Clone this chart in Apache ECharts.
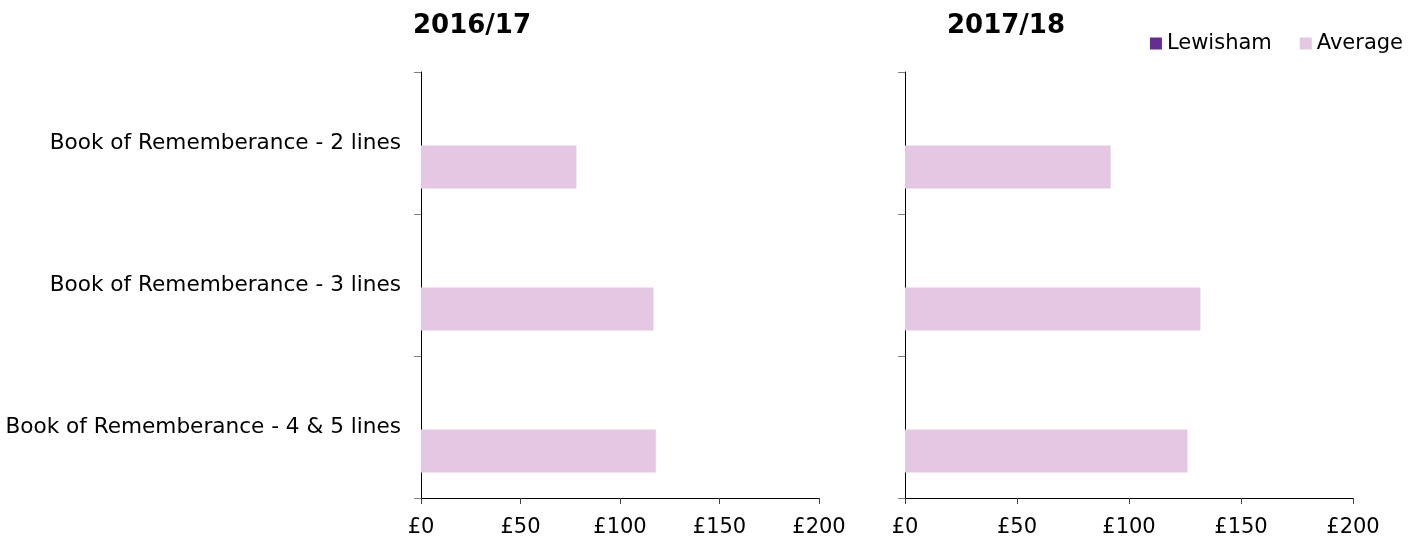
<!DOCTYPE html>
<html>
<head>
    <meta charset="utf-8">
    <title>Book of Rememberance</title>
    <script src="https://cdn.jsdelivr.net/npm/echarts@6/dist/echarts.min.js"></script>
    <style>
        html, body { margin: 0; padding: 0; background: #fff; }
        #chart { width: 1422px; height: 541px; }
    </style>
</head>
<body>
<div id="chart"></div>
<script>
    // categories, top to bottom
    var categories = ['Book of Rememberance - 2 lines', 'Book of Rememberance - 3 lines', 'Book of Rememberance - 4 & 5 lines'];
    var panelTitles = ['2016/17', '2017/18'];
    // Lewisham has no values shown
    var lewisham1617 = [null, null, null];
    var average1617 = [78.1, 116.8, 118.0];
    var lewisham1718 = [null, null, null];
    var average1718 = [91.8, 131.9, 126.1];
    var xTicks = [0, 50, 100, 150, 200];

    var font = 'DejaVu Sans, Verdana, sans-serif';
    var purple = '#662D91';
    var pink = '#E4C7E3';

    var myChart = echarts.init(document.getElementById('chart'));

    function xAxis(idx) {
        return {
            type: 'value', gridIndex: idx,
            min: xTicks[0], max: xTicks[xTicks.length - 1], interval: xTicks[1] - xTicks[0],
            axisLine: {show: true, lineStyle: {color: '#000', width: 1}},
            axisTick: {show: true, length: 6, lineStyle: {color: '#404040'}},
            splitLine: {show: false},
            axisLabel: {
                formatter: '£{value}', color: '#000', fontFamily: font, fontSize: 21, margin: 19
            }
        };
    }
    function yAxis(idx, showLabel) {
        return {
            type: 'category', gridIndex: idx, data: categories, inverse: true,
            axisLine: {show: true, lineStyle: {color: '#000', width: 1}},
            axisTick: {show: true, length: 7, lineStyle: {color: '#808080'}},
            axisLabel: {show: showLabel, color: '#000', fontFamily: font, fontSize: 21.6, margin: 20}
        };
    }

    myChart.setOption({
        animation: false,
        title: [
            {text: panelTitles[0], left: 413, top: 13, padding: 0,
                textStyle: {fontFamily: font, fontSize: 26, fontWeight: 'bold', color: '#000'}},
            {text: panelTitles[1], left: 947, top: 13, padding: 0,
                textStyle: {fontFamily: font, fontSize: 26, fontWeight: 'bold', color: '#000'}}
        ],
        legend: {
            data: ['Lewisham', 'Average'],
            right: 14, top: 28,
            icon: 'rect', itemWidth: 12, itemHeight: 12, itemGap: 28,
            textStyle: {fontFamily: font, fontSize: 21, color: '#000'}
        },
        grid: [
            {left: 421, top: 72, width: 398, height: 426},
            {left: 905, top: 72, width: 448, height: 426}
        ],
        xAxis: [xAxis(0), xAxis(1)],
        yAxis: [yAxis(0, true), yAxis(1, false)],
        series: [
            {name: 'Lewisham', type: 'bar', xAxisIndex: 0, yAxisIndex: 0, data: lewisham1617,
                barWidth: 43, barGap: '12%', itemStyle: {color: purple}},
            {name: 'Average', type: 'bar', xAxisIndex: 0, yAxisIndex: 0, data: average1617,
                barWidth: 43, barGap: '12%', itemStyle: {color: pink}},
            {name: 'Lewisham', type: 'bar', xAxisIndex: 1, yAxisIndex: 1, data: lewisham1718,
                barWidth: 43, barGap: '12%', itemStyle: {color: purple}},
            {name: 'Average', type: 'bar', xAxisIndex: 1, yAxisIndex: 1, data: average1718,
                barWidth: 43, barGap: '12%', itemStyle: {color: pink}}
        ]
    });
</script>
</body>
</html>
